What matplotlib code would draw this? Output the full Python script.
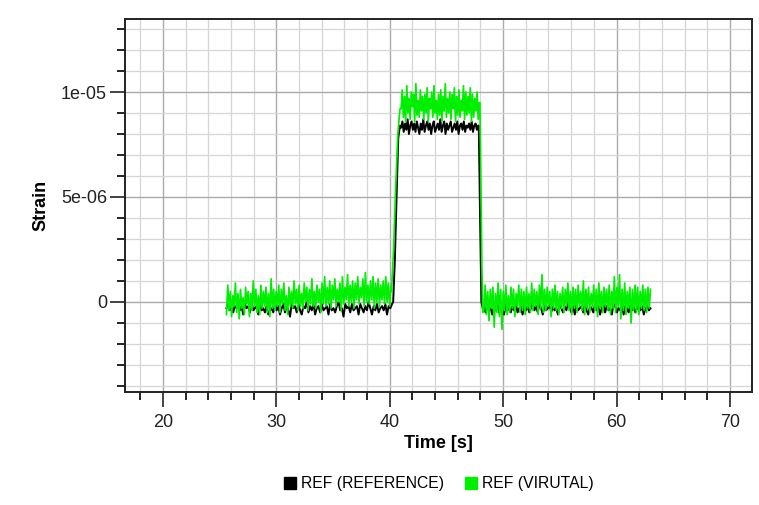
import numpy as np
import matplotlib.pyplot as plt
from matplotlib.ticker import MultipleLocator, FixedLocator, FixedFormatter
from matplotlib.lines import Line2D

plt.rcParams['font.family'] = ['Liberation Sans', 'DejaVu Sans']

# values in units of 1e-7 strain
SCALE = 1e-7

# REF (VIRUTAL) - green
g_base1 = [
    -6, 8, -4, 5, -7, 3, -2, 9, -5, 4, -8, 6, -3, 2, -6, 7, -1, 5, -7, 4,
    -4, 10, -2, 6, -5, 3, -6, 8, -3, 5, -2, 7, -5, 4, -7, 11, -3, 6, -4, 5,
    -2, 8, -5, 6, -1, 9, -4, 3, -6, 7, -2, 5, -3, 10, -1, 6, -4, 8, -2, 4,
    -3, 9, 0, 7, -4, 6, -1, 11, -2, 5, -3, 8, 0, 6, -5, 9, -1, 12, -2, 7,
    -1, 10, -3, 8, 1, 11, -2, 6, 0, 9, -4, 12, -1, 7, 1, 13, -2, 8, 0, 10,
    -3, 9, 1, 12, -1, 7, 2, 11, -2, 14, 0, 8, -1, 10, 1, 12, -3, 9, 0, 11,
    -2, 8, 1, 10, -1, 12, 0, 9, -2, 7,
]
g_rise = [5, 25, 55, 80, 92]
g_plat = [
    92, 101, 88, 98, 86, 103, 90, 97, 87, 100, 93, 99, 86, 104, 89, 96, 88, 101, 91, 98,
    87, 99, 90, 102, 86, 97, 92, 100, 88, 103, 90, 96, 87, 99, 89, 101, 86, 98, 91, 104,
    88, 97, 90, 100, 87, 99, 92, 102, 86, 98, 89, 101, 88, 96, 91, 103, 87, 100, 89, 98,
    90, 102, 86, 99, 88, 97, 91, 100, 87, 95,
]
g_fall = [95, 60, 20, -5]
g_base2 = [
    -4, 8, -6, 5, -9, 6, -3, 7, -12, 4, -5, 9, -7, 6, -13, 5, -4, 8, -6, 3,
    -5, 7, -3, 6, -7, 4, -2, 8, -5, 6, -4, 5, -6, 7, -3, 4, -5, 9, -4, 6,
    -2, 5, -6, 8, -3, 13, -5, 6, -4, 7, -2, 5, -7, 6, -3, 8, -4, 5, -6, 4,
    -3, 7, -5, 6, -2, 9, -4, 5, -6, 7, -3, 6, -5, 8, -2, 5, -4, 10, -6, 6,
    -3, 7, -5, 4, -2, 8, -4, 6, -7, 9, -3, 5, -5, 7, -2, 6, -4, 8, -6, 5,
    -3, 12, -5, 7, -2, 13, -8, 6, -4, 9, -6, 5, -3, 7, -10, 6, -4, 8, -5, 7,
    -6, 5, -3, 8, -4, 6, -5, 7, -3, 6,
]

# REF (REFERENCE) - black
b_base1 = [
    -3, 0, -4, -1, -5, -2, -3, 0, -4, -2, -6, -1, -3, -2, -5, 0, -4, -3, -2, -6,
    -1, -4, -3, -5, -2, -6, -4, -3, -5, -1, -4, -2, -6, -3, -1, -5, -2, -4, -7, -1,
    -3, -2, -5, -1, -4, -6, -2, -3, 0, -5, -2, -4, -1, -6, -3, -2, -5, -1, -4, -3,
    -2, -6, -1, -4, -3, -5, -2, 0, -4, -3, -7, -1, -3, -2, -5, -1, -4, -3, -2, -6,
    -1, -3, -5, -2, -4, 0, -3, -6, -2, -4, -1, -5, -3, -2, -4, -1, -6, -2, -3, -1,
]
b_rise = [0, 20, 50, 78, 84]
b_plat = [
    83, 86, 81, 85, 82, 87, 80, 84, 86, 82, 85, 81, 86, 83, 80, 85, 82, 87, 81, 84,
    86, 82, 85, 80, 84, 86, 81, 83, 85, 82, 87, 81, 84, 86, 80, 85, 82, 84, 86, 81,
    83, 85, 82, 86, 80, 84, 85, 82, 86, 81, 84, 83, 85, 82, 86, 81, 84, 85, 82, 84,
]
b_fall = [84, 40, 0, -3]
b_base2 = [
    -2, -5, -1, -4, -3, -6, -2, -4, 0, -5, -3, -2, -6, -1, -4, -3, -5, -2, -4, -1,
    -5, -3, -2, -6, -1, -4, -2, -5, -3, 0, -4, -2, -5, -1, -3, -6, -2, -4, -3, -1,
    -5, -2, -4, -3, -6, -1, -3, -5, -2, -4, 0, -3, -5, -2, -6, -1, -4, -3, -2, -5,
    -1, -4, -6, -2, -3, -5, -1, -4, -2, -6, -3, -1, -5, -2, -4, -3, -6, -1, -2, -5,
    -3, -4, -1, -6, -2, -3, -5, -1, -4, -2, -5, -3, -1, -4, -2, -6, -3, -2, -4, -3,
]

# segment start/end times [s]
g_times = [(25.6, 40.1), (40.15, 40.9), (41.0, 47.9), (47.95, 48.2), (48.3, 63.0)]
b_times = [(25.6, 40.2), (40.3, 40.9), (41.0, 47.8), (47.85, 48.2), (48.3, 63.0)]

y_ticks = [0, 5e-6, 1e-5]
y_tick_labels = ['0', '5e-06', '1e-05']
x_ticks = [20, 30, 40, 50, 60, 70]


def build(times, parts):
    t, v = [], []
    for (t0, t1), vals in zip(times, parts):
        t.append(np.linspace(t0, t1, len(vals)))
        v.append(np.array(vals) * SCALE)
    return np.concatenate(t), np.concatenate(v)


t_g, v_g = build(g_times, [g_base1, g_rise, g_plat, g_fall, g_base2])
t_b, v_b = build(b_times, [b_base1, b_rise, b_plat, b_fall, b_base2])

fig = plt.figure(figsize=(7.59, 5.05), dpi=100)
ax = fig.add_axes([0.1647, 0.2238, 0.8261, 0.7386])

ax.plot(t_b, v_b, color='black', lw=1.4)
ax.plot(t_g, v_g, color='#00ee00', lw=1.25)

ax.set_xlim(16.65, 71.95)
ax.set_ylim(-4.29e-6, 1.348e-5)

ax.xaxis.set_major_locator(FixedLocator(x_ticks))
ax.xaxis.set_minor_locator(MultipleLocator(2))
ax.yaxis.set_major_locator(FixedLocator(y_ticks))
ax.yaxis.set_major_formatter(FixedFormatter(y_tick_labels))
ax.yaxis.set_minor_locator(MultipleLocator(1e-6))

ax.grid(True, which='minor', color='#d6d6d6', lw=0.9)
ax.grid(True, which='major', color='#ababab', lw=1.0)
ax.set_axisbelow(True)

ax.tick_params(which='major', length=11, width=1.2, pad=2, labelsize=13, colors='#222222')
ax.tick_params(which='minor', length=6, width=1.2)
ax.tick_params(axis='x', which='major', pad=5)
for s in ax.spines.values():
    s.set_linewidth(1.4)
    s.set_color('#222222')

ax.set_xlabel('Time [s]', fontsize=13, fontweight='bold', labelpad=3)
ax.set_ylabel('Strain', fontsize=13, fontweight='bold', labelpad=8)

handles = [
    Line2D([], [], marker='s', ls='none', color='black', markersize=9),
    Line2D([], [], marker='s', ls='none', color='#00ee00', markersize=9),
]
fig.legend(handles, ['REF (REFERENCE)', 'REF (VIRUTAL)'], loc='center',
           bbox_to_anchor=(0.577, 0.042), ncol=2, frameon=False,
           prop={'size': 11.3},
           handletextpad=0.2, columnspacing=1.2, handlelength=1.0)

fig.savefig('out.png', dpi=100)
